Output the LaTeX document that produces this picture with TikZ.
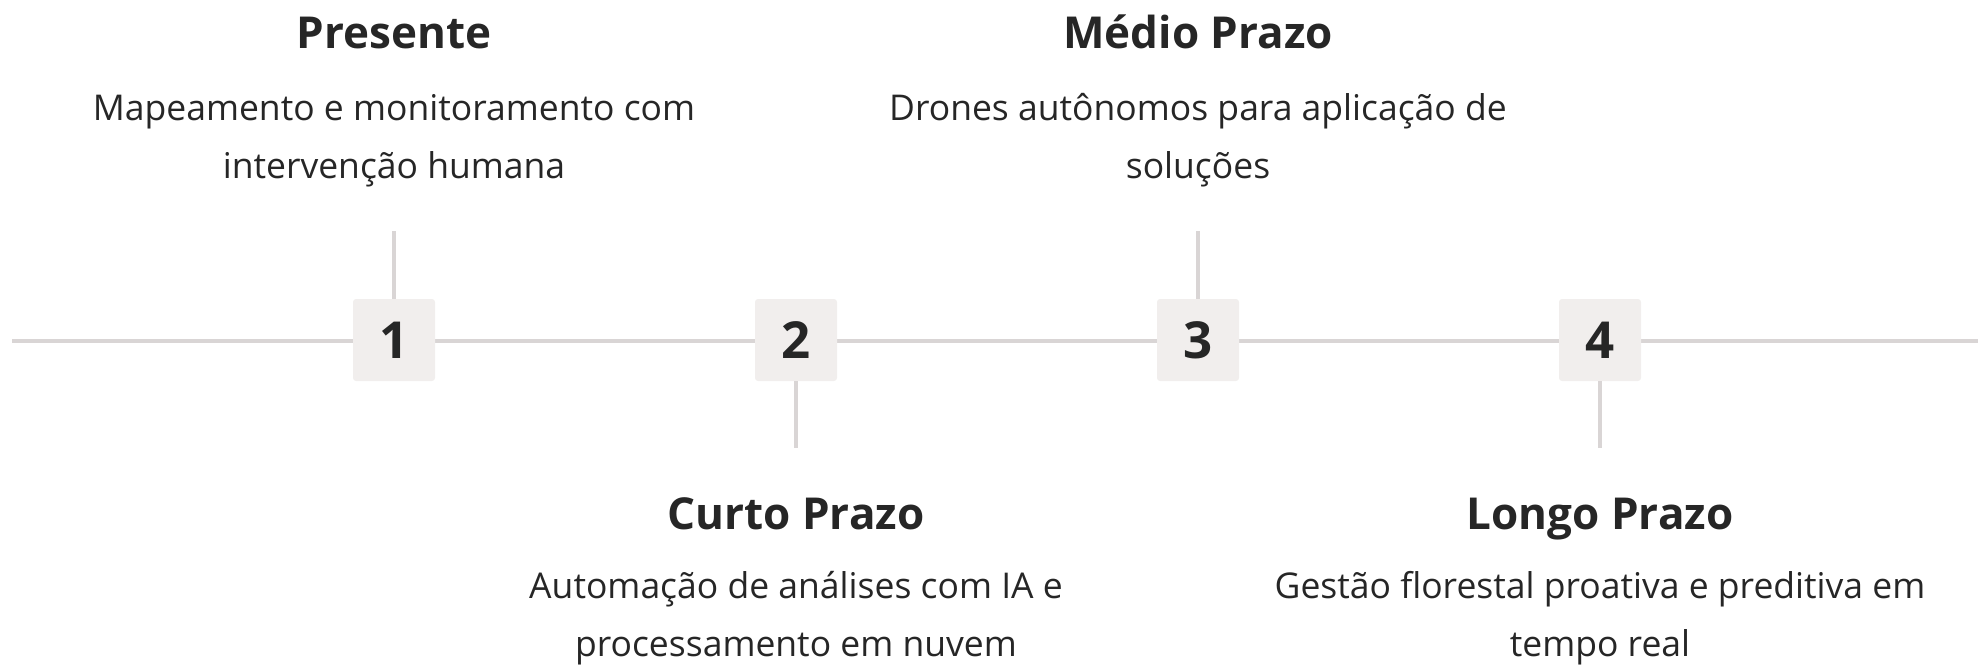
\documentclass[tikz,border=0pt]{standalone}
\usepackage{fontspec}
\setmainfont{Open Sans}
\usepackage{tikz}
\usepackage{xcolor}
\usetikzlibrary{calc}
\definecolor{linegray}{HTML}{D9D5D5}
\definecolor{boxgray}{HTML}{F1EEED}
\definecolor{inkdark}{HTML}{262626}
\begin{document}
\begin{tikzpicture}[x=1pt,y=-1pt]
        \tikzstyle{stepbox}=[fill=boxgray,rounded corners=3pt,minimum size=82pt,inner sep=0pt,text=inkdark,font=\fontsize{51}{51}\selectfont\bfseries]
        \tikzstyle{title}=[inner sep=0pt,anchor=base,text=inkdark,font=\fontsize{44}{44}\selectfont\bfseries]
        \tikzstyle{desc}=[inner sep=0pt,anchor=base,align=center,text=inkdark,font=\fontsize{35.5}{58}\selectfont]
        \tikzstyle{link}=[draw=linegray,line width=3.5pt]
        \useasboundingbox (0,0) rectangle (1978,664);
        \coordinate (l0) at (12,341);
        \coordinate (l1) at (1978,341);
        \draw[link] (l0) -- (l1);

        \node[stepbox] (1) at (394,340) {1};
        \node[stepbox] (2) at ($(1)+(402,0)$) {2};
        \node[stepbox] (3) at ($(2)+(402,0)$) {3};
        \node[stepbox] (4) at ($(3)+(402,0)$) {4};

        \coordinate (11) at ($(1.north)+(0,-68)$);
        \coordinate (21) at ($(2.south)+(0,67)$);
        \coordinate (31) at ($(3.north)+(0,-68)$);
        \coordinate (41) at ($(4.south)+(0,67)$);
        \draw[link] (1.north) -- (11);
        \draw[link] (2.south) -- (21);
        \draw[link] (3.north) -- (31);
        \draw[link] (4.south) -- (41);

        \node[title] (12) at (394,48) {Presente};
        \node[desc] (13) at (394,178) {Mapeamento e monitoramento com\\intervenção humana};
        \node[title] (22) at (796,529) {Curto Prazo};
        \node[desc] (23) at (796,656) {Automação de análises com IA e\\processamento em nuvem};
        \node[title] (32) at (1198,48) {Médio Prazo};
        \node[desc] (33) at (1198,178) {Drones autônomos para aplicação de\\soluções};
        \node[title] (42) at (1600,529) {Longo Prazo};
        \node[desc] (43) at (1600,656) {Gestão florestal proativa e preditiva em\\tempo real};
    \end{tikzpicture}
\end{document}
